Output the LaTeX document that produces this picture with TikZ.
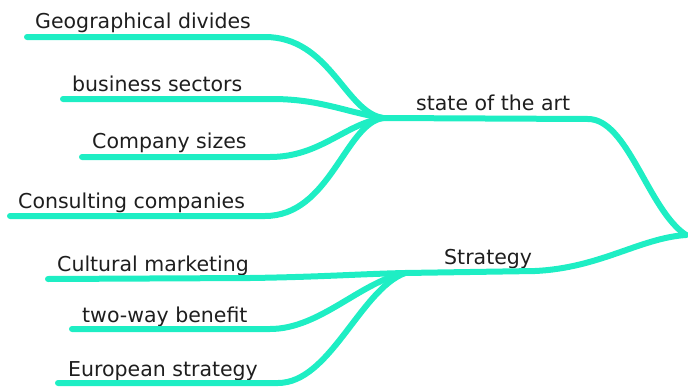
\documentclass[tikz,border=0pt]{standalone}
\usepackage{fontspec}
\setmainfont{DejaVu Sans}
\definecolor{branchcol}{RGB}{30,238,196}
\definecolor{inkcol}{RGB}{30,30,30}
\begin{document}
\begin{tikzpicture}[x=1pt,y=-1pt,
  branch/.style={draw=branchcol,line width=6pt,line cap=round},
  lbl/.style={anchor=base west,inner sep=0pt,text=inkcol,
              font=\fontsize{20.5}{24}\selectfont}]
\useasboundingbox (0,0) rectangle (688,388);

% hubs
\coordinate (root) at (686,235);
\coordinate (artJ) at (383,118);
\coordinate (strJ) at (405,273);

% main branches
\coordinate (artE) at (588,119);
\coordinate (strE) at (535,271);
\node[lbl] (art) at (416,110.5) {state of the art};
\node[lbl] (str) at (444,264) {Strategy};

% leaves of "state of the art"
\coordinate (g0) at (27,37);   \coordinate (g1) at (265,37);
\coordinate (b0) at (63,99);   \coordinate (b1) at (272,99);
\coordinate (c0) at (82,157);  \coordinate (c1) at (270,157);
\coordinate (k0) at (10,216);  \coordinate (k1) at (265,216);
\node[lbl] (geo) at (35,28.5) {Geographical divides};
\node[lbl] (bus) at (72,91) {business sectors};
\node[lbl] (siz) at (92,148.5) {Company sizes};
\node[lbl] (con) at (18,208) {Consulting companies};

% leaves of "Strategy"
\coordinate (m0) at (48,279);  \coordinate (m1) at (250,278);
\coordinate (t0) at (72,329);  \coordinate (t1) at (270,329);
\coordinate (e0) at (58,383);  \coordinate (e1) at (278,383);
\node[lbl] (cul) at (57,271.5) {Cultural marketing};
\node[lbl] (two) at (82,322) {two-way benefit};
\node[lbl] (eur) at (68,376.5) {European strategy};

% connectors to the root
\draw[branch] (artJ) -- (artE) .. controls (628,119) and (648,210) .. (root);
\draw[branch] (strJ) -- (strE) .. controls (600,268) and (640,238) .. (root);

% connectors from the hubs to the leaves
\draw[branch] (g0) -- (g1) .. controls (330,37) and (345,112) .. (artJ);
\draw[branch] (b0) -- (b1) .. controls (320,99) and (345,112) .. (artJ);
\draw[branch] (c0) -- (c1) .. controls (320,157) and (345,124) .. (artJ);
\draw[branch] (k0) -- (k1) .. controls (330,216) and (345,124) .. (artJ);

\draw[branch] (m0) -- (m1) .. controls (320,277) and (360,274) .. (strJ);
\draw[branch] (t0) -- (t1) .. controls (320,329) and (360,282) .. (strJ);
\draw[branch] (e0) -- (e1) .. controls (330,383) and (360,290) .. (strJ);
\end{tikzpicture}
\end{document}
